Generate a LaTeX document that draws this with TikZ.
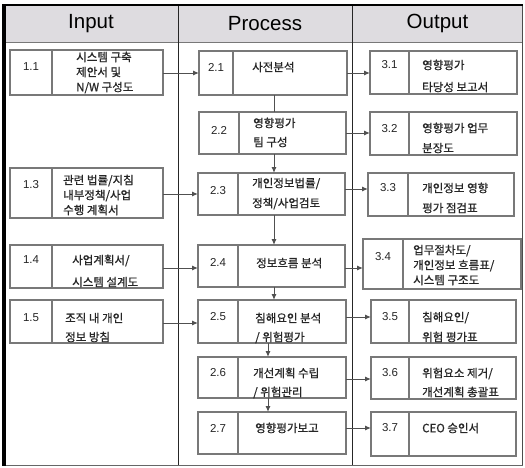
\documentclass[tikz,border=0pt]{standalone}
\usepackage{fontspec}
\setmainfont{Liberation Sans}
\newfontfamily\kr[BoldFont={Noto Sans CJK KR}, BoldFeatures={FakeBold=0.8}]{Noto Sans CJK KR}
\usetikzlibrary{arrows.meta}
\definecolor{hdrgray}{RGB}{222,220,224}
\definecolor{boxgray}{RGB}{120,120,120}
\definecolor{arrgray}{RGB}{80,80,80}
% name, x1, y1, x2, y2, divider x
\newcommand\mybox[6]{%
  \node[box, minimum width={#4-#2}, minimum height={#5-#3}] (#1) at ({(#2+#4)/2},{(#3+#5)/2}) {};
  \draw[boxline] (#6,0 |- #1.north) -- (#6,0 |- #1.south);
}
\newcommand\tline[4]{\node[kt] (#1) at (#2,{#3+4.3}) {#4};}
\newcommand\numl[4]{\node[nt] (#1) at (#2,#3) {#4};}
\begin{document}
\begin{tikzpicture}[x=1pt,y=-1pt,
  box/.style={draw=boxgray, line width=1.2pt, fill=white, inner sep=0pt, outer sep=0pt},
  boxline/.style={draw=boxgray, line width=1.2pt},
  kt/.style={anchor=base west, inner sep=0pt, font=\kr\bfseries\fontsize{11.5}{13}\selectfont, text=black!85},
  nt/.style={anchor=center, inner sep=0pt, font=\fontsize{11.5}{13}\selectfont, text=black!85},
  hd/.style={anchor=center, inner sep=0pt, font=\fontsize{20.5}{24}\selectfont},
  arr/.style={draw=arrgray, line width=1pt, -{Latex[length=6pt,width=5pt]}},
  plain/.style={draw=arrgray, line width=1pt},
  col/.style={draw=black!85, line width=0.9pt}]
\useasboundingbox (0,0) rectangle (525,467);
% frame and header
\fill[hdrgray] (4,5) rectangle (523,42);
\draw[draw=boxgray, line width=1pt] (4,42) -- (523,42);
\draw[draw=black!60, line width=1pt] (4,465) -- (523,465);
\draw[draw=black!70, line width=1.5pt] (522.5,5) -- (522.5,465);
\draw[col] (178,5) -- (178,465);
\draw[col] (352,5) -- (352,465);
\draw[black, line width=2pt] (3,5) -- (523.2,5);
\draw[black, line width=3.2pt] (4,4) -- (4,466);
\node[hd] (hIn) at (91,23.5) {Input};
\node[hd] (hPr) at (265,23.5) {Process};
\node[hd] (hOut) at (437.5,23.5) {Output};
% boxes
\mybox{b11}{10}{50}{163}{95}{52}
\mybox{b13}{10}{168}{163}{218}{52}
\mybox{b14}{10}{245}{163}{288}{52}
\mybox{b15}{10}{300}{163}{343}{52}
\mybox{b21}{199}{51}{347}{95}{233}
\mybox{b22}{199}{112}{346}{154}{239}
\mybox{b23}{198}{173}{345}{215}{238}
\mybox{b24}{198}{245}{345}{287}{238}
\mybox{b25}{198}{300}{346}{343}{238}
\mybox{b26}{198}{357}{346}{398}{238}
\mybox{b27}{198}{412}{346}{454}{238}
\mybox{b31}{370}{51}{517}{94}{409}
\mybox{b32}{370}{112}{517}{155}{409}
\mybox{b33}{368}{173}{514}{216}{408}
\mybox{b34}{363}{239}{521}{289}{403}
\mybox{b35}{371}{300}{516}{343}{409}
\mybox{b36}{371}{357}{516}{399}{409}
\mybox{b37}{371}{412}{516}{456}{409}
% numbers
\numl{n11}{31}{67}{1.1}
\numl{n13}{31}{185}{1.3}
\numl{n14}{31}{260}{1.4}
\numl{n15}{31}{318}{1.5}
\numl{n21}{216}{67}{2.1}
\numl{n22}{219}{130}{2.2}
\numl{n23}{218}{191}{2.3}
\numl{n24}{218}{262}{2.4}
\numl{n25}{218}{317}{2.5}
\numl{n26}{218}{373}{2.6}
\numl{n27}{218}{428}{2.7}
\numl{n31}{389.5}{65}{3.1}
\numl{n32}{389.5}{129}{3.2}
\numl{n33}{388}{188}{3.3}
\numl{n34}{383}{257}{3.4}
\numl{n35}{390}{317}{3.5}
\numl{n36}{390}{373}{3.6}
\numl{n37}{390}{428}{3.7}
% texts
\tline{t11a}{76}{57}{시스템 구축}
\tline{t11b}{76}{72}{제안서 및}
\tline{t11c}{76}{87}{N/W 구성도}
\tline{t13a}{63}{180}{관련 법률/지침}
\tline{t13b}{63}{195}{내부정책/사업}
\tline{t13c}{63}{210}{수행 계획서}
\tline{t14a}{72}{260}{사업계획서/}
\tline{t14b}{72}{282}{시스템 설계도}
\tline{t15a}{65}{318}{조직 내 개인}
\tline{t15b}{65}{337}{정보 방침}
\tline{t21a}{252}{67}{사전분석}
\tline{t22a}{253}{123}{영향평가}
\tline{t22b}{253}{142}{팀 구성}
\tline{t23a}{252}{183}{개인정보법률/}
\tline{t23b}{252}{203}{정책/사업검토}
\tline{t24a}{256}{263}{정보흐름 분석}
\tline{t25a}{255}{318}{침해요인 분석}
\tline{t25b}{255}{337}{/ 위험평가}
\tline{t26a}{253}{373}{개선계획 수립}
\tline{t26b}{253}{392}{/ 위험관리}
\tline{t27a}{255}{428}{영향평가보고}
\tline{t31a}{422}{65}{영향평가}
\tline{t31b}{422}{87}{타당성 보고서}
\tline{t32a}{422}{128}{영향평가 업무}
\tline{t32b}{422}{148}{분장도}
\tline{t33a}{422}{188}{개인정보 영향}
\tline{t33b}{422}{208}{평가 점검표}
\tline{t34a}{413}{250}{업무절차도/}
\tline{t34b}{413}{265}{개인정보 흐름표/}
\tline{t34c}{413}{280}{시스템 구조도}
\tline{t35a}{422}{317}{침해요인/}
\tline{t35b}{422}{337}{위험 평가표}
\tline{t36a}{422}{373}{위험요소 제거/}
\tline{t36b}{422}{392}{개선계획 총괄표}
\tline{t37a}{422}{428}{CEO 승인서}
% connector levels
\coordinate (y1) at (0,73);
\coordinate (y3) at (0,194);
\coordinate (y4) at (0,268);
\coordinate (y5) at (0,323);
\coordinate (z1) at (0,73);
\coordinate (z2) at (0,133);
\coordinate (z3) at (0,189);
\coordinate (z4) at (0,268);
\coordinate (z5) at (0,317);
\coordinate (z6) at (0,379);
\coordinate (z7) at (0,428);
\coordinate (xa) at (274,0);
\coordinate (xb) at (268,0);
% input -> process
\draw[arr] (b11.east |- y1) -- (b21.west |- y1);
\draw[arr] (b13.east |- y3) -- (b23.west |- y3);
\draw[arr] (b14.east |- y4) -- (b24.west |- y4);
\draw[arr] (b15.east |- y5) -- (b25.west |- y5);
% process -> output
\draw[arr] (b21.east |- z1) -- (b31.west |- z1);
\draw[arr] (b22.east |- z2) -- (b32.west |- z2);
\draw[arr] (b23.east |- z3) -- (b33.west |- z3);
\draw[arr] (b24.east |- z4) -- (b34.west |- z4);
\draw[arr] (b25.east |- z5) -- (b35.west |- z5);
\draw[arr] (b26.east |- z6) -- (b36.west |- z6);
\draw[arr] (b27.east |- z7) -- (b37.west |- z7);
% process chain
\draw[plain] (b21.south -| xa) -- (b22.north -| xa);
\draw[arr] (b22.south -| xa) -- (b23.north -| xa);
\draw[arr] (b23.south -| xa) -- (b24.north -| xa);
\draw[arr] (b24.south -| xa) -- (b25.north -| xa);
\draw[arr] (b25.south -| xb) -- (b26.north -| xb);
\draw[arr] (b26.south -| xb) -- (b27.north -| xb);
\end{tikzpicture}
\end{document}
